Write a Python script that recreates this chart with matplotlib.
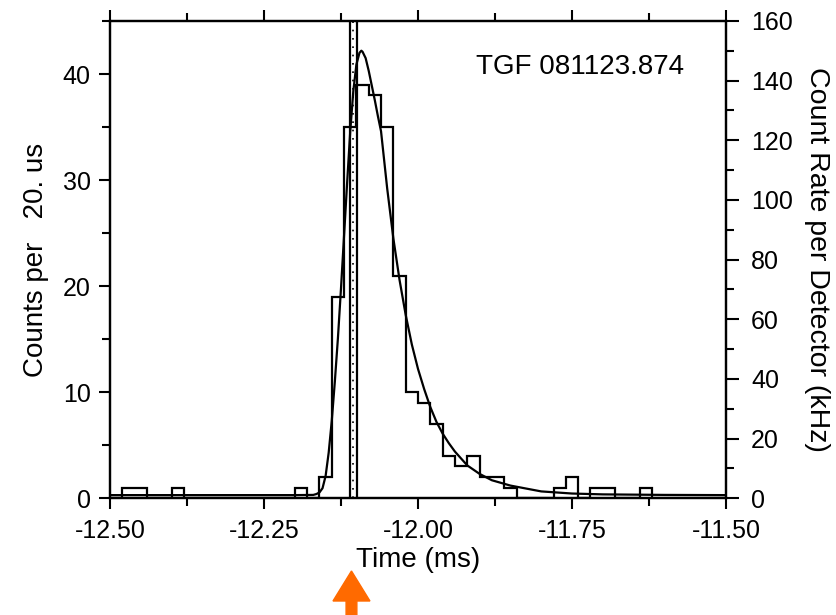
import numpy as np
import matplotlib
matplotlib.use("Agg")
import matplotlib.pyplot as plt
from matplotlib.patches import FancyArrow
from matplotlib.ticker import MultipleLocator, FormatStrFormatter
import matplotlib.transforms as mtransforms

# --- dados ---
bin_edges = np.linspace(-12.5, -11.5, 51)   # bins de 20 us
counts = [0, 1, 1, 0, 0, 1, 0, 0, 0, 0,
          0, 0, 0, 0, 0, 1, 0, 2, 19, 35,
          39, 38, 35, 21, 10, 9, 7, 4, 3, 4,
          2, 2, 1, 0, 0, 0, 1, 2, 0, 1,
          1, 0, 0, 1, 0, 0, 0, 0, 0, 0]

# curva ajustada
fit_t = [-12.50, -12.20, -12.17, -12.165, -12.16, -12.155, -12.15, -12.145, -12.14,
         -12.135, -12.13, -12.125, -12.12, -12.115, -12.11, -12.105, -12.10,
         -12.095, -12.092, -12.09, -12.085, -12.08, -12.075, -12.07, -12.065,
         -12.06, -12.05, -12.04, -12.03, -12.02, -12.01, -12.00, -11.99, -11.98,
         -11.97, -11.96, -11.95, -11.94, -11.92, -11.90, -11.88, -11.85, -11.80,
         -11.75, -11.70, -11.60, -11.50]
fit_c = [0.3, 0.3, 0.32, 0.4, 0.55, 0.95, 2.1, 4.3, 7.3,
         11.0, 15.1, 19.8, 24.8, 29.8, 34.6, 38.4, 40.9,
         42.0, 42.2, 42.1, 41.5, 40.3, 38.9, 37.5, 36.0,
         34.6, 29.2, 24.5, 20.6, 17.3, 14.5, 12.2, 10.3, 8.6,
         7.2, 6.1, 5.2, 4.4, 3.1, 2.3, 1.7, 1.2, 0.65,
         0.45, 0.37, 0.32, 0.3]

# linhas verticais (ms)
solid_lines = [-12.1106, -12.0992]
dotted_line = -12.1049
arrow_t = -12.108

title_txt = "TGF 081123.874"
FONT = "Liberation Sans"
FS_TICK = 18
FS_LAB = 20

plt.rcParams['font.family'] = FONT

fig = plt.figure(figsize=(8.37, 6.15), dpi=100)
ax = fig.add_axes([110 / 837, 1 - 498.3 / 615, 616 / 837, 477.3 / 615])

ax.stairs(counts, bin_edges, color='black', linewidth=1.6)
ax.plot(fit_t, fit_c, color='black', linewidth=1.6)
for x in solid_lines:
    ax.axvline(x, color='black', linewidth=1.6)
ax.axvline(dotted_line, color='black', linewidth=1.2, linestyle=(0, (1, 4)))

ax.set_xlim(-12.5, -11.5)
ax.set_ylim(0, 45)
ax.xaxis.set_major_locator(MultipleLocator(0.25))
ax.xaxis.set_minor_locator(MultipleLocator(0.125))
ax.xaxis.set_major_formatter(FormatStrFormatter('%.2f'))
ax.yaxis.set_major_locator(MultipleLocator(10))
ax.yaxis.set_minor_locator(MultipleLocator(5))
ax.tick_params(which='both', direction='out', top=True, width=1.5, labelsize=FS_TICK)
ax.tick_params(which='major', length=8, pad=6)
ax.tick_params(which='minor', length=5.5)
ax.tick_params(axis='x', pad=7)
for s in ax.spines.values():
    s.set_linewidth(1.6)

ax.set_xlabel('Time (ms)', fontsize=FS_LAB, labelpad=3)
ax.set_ylabel('Counts per   20. us', fontsize=FS_LAB, labelpad=10)
ax.text(0.594, 0.890, title_txt, transform=ax.transAxes, fontsize=20, va='baseline')

# eixo da direita: taxa por detector
ax2 = ax.twinx()
ax2.set_ylim(0, 160)
ax2.yaxis.set_major_locator(MultipleLocator(20))
ax2.yaxis.set_minor_locator(MultipleLocator(10))
ax2.tick_params(which='both', direction='out', width=1.5, labelsize=FS_TICK)
ax2.tick_params(which='major', length=9, pad=9)
ax2.tick_params(which='minor', length=6)
for s in ax2.spines.values():
    s.set_linewidth(1.6)
ax2.set_ylabel('Count Rate per Detector (kHz)', fontsize=20.5, rotation=270, labelpad=27)

# seta laranja abaixo do eixo
trans = mtransforms.blended_transform_factory(ax.transData, fig.transFigure)
arrow = FancyArrow(arrow_t, 0.0, 0, 1 - 571 / 615, width=0.0175, head_width=0.06,
                   head_length=30 / 615, length_includes_head=True,
                   color='#ff6a00', transform=trans, clip_on=False)
fig.add_artist(arrow)

fig.savefig('out.png', dpi=100)
